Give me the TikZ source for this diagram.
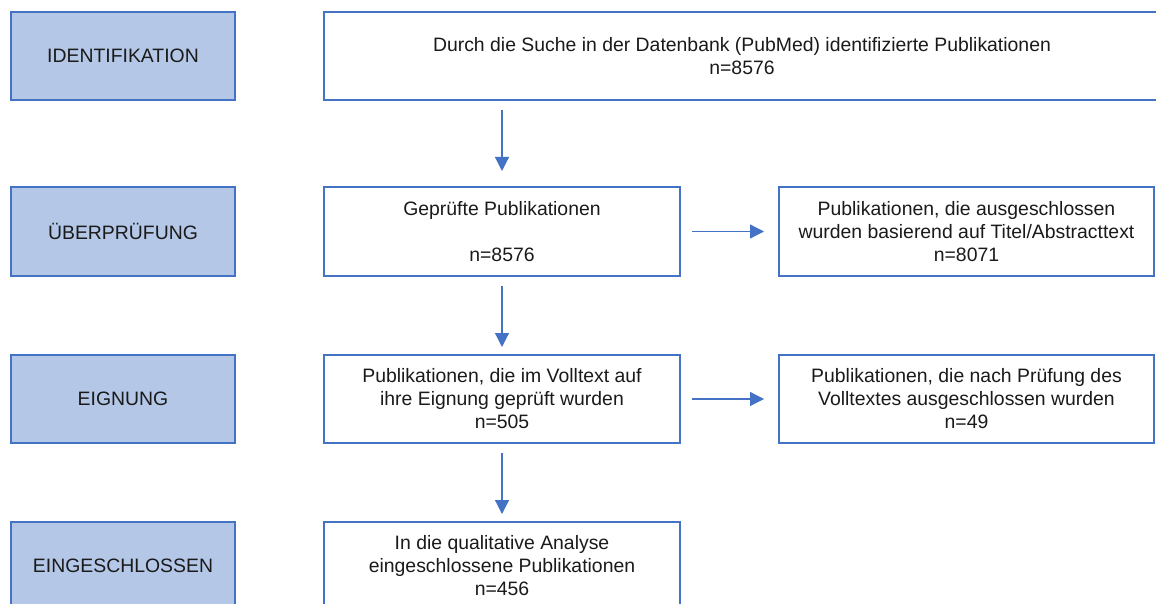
\documentclass[tikz,border=0pt]{standalone}
\usepackage{fontspec}
\setmainfont{Liberation Sans}
\usetikzlibrary{arrows.meta}
\definecolor{bordc}{HTML}{4472C4}
\definecolor{fillc}{HTML}{B4C7E7}
\definecolor{txtc}{HTML}{1A1A1A}
\begin{document}
\begin{tikzpicture}[x=1pt,y=-1pt,
  base/.style={draw=bordc, line width=1.6pt, inner sep=0pt, outer sep=0pt,
    align=center, text=txtc, font=\fontsize{19.4}{23}\selectfont},
  stage/.style={base, fill=fillc, minimum width=224pt},
  infobox/.style={base, fill=white},
  arr/.style={draw=bordc, line width=1.2pt, -{Triangle[width=14pt,length=14pt]}}]
\useasboundingbox (0,0) rectangle (1156,604);
\fill[white] (0,0) rectangle (1156,604);

% left column
\node[stage, minimum height=88pt] (s1) at (123,56) {IDENTIFIKATION};
\node[stage, minimum height=89pt] (s2) at (123,231.5) {ÜBERPRÜFUNG};
\node[stage, minimum height=88pt] (s3) at (123,399) {EIGNUNG};
\node[stage, minimum height=88pt] (s4) at (123,566) {EINGESCHLOSSEN};

% middle column
\node[infobox, minimum width=836pt, minimum height=88pt] (top) at (742,56)
  {Durch die Suche in der Datenbank (PubMed) identifizierte Publikationen\\n=8576};
\node[infobox, minimum width=356pt, minimum height=89pt] (m2) at (502,231.5)
  {Geprüfte Publikationen\\\strut\\n=8576};
\node[infobox, minimum width=356pt, minimum height=88pt] (m3) at (502,399)
  {Publikationen, die im Volltext auf\\ihre Eignung geprüft wurden\\n=505};
\node[infobox, minimum width=356pt, minimum height=88pt] (m4) at (502,566)
  {In die qualitative Analyse\\eingeschlossene Publikationen\\n=456};

% right column
\node[infobox, minimum width=375pt, minimum height=89pt] (r2) at (966.5,231.5)
  {Publikationen, die ausgeschlossen\\wurden basierend auf Titel/Abstracttext\\n=8071};
\node[infobox, minimum width=375pt, minimum height=88pt] (r3) at (966.5,399)
  {Publikationen, die nach Prüfung des\\Volltextes ausgeschlossen wurden\\n=49};

% vertical arrows
\draw[arr] ([yshift=-10pt]m2.north |- top.south) -- ([yshift=16pt]m2.north);
\draw[arr] ([yshift=-10pt]m2.south) -- ([yshift=8pt]m3.north);
\draw[arr] ([yshift=-10pt]m3.south) -- ([yshift=8pt]m4.north);

% horizontal arrows
\draw[arr] ([xshift=12pt]m2.east) -- ([xshift=-15pt]r2.west);
\draw[arr] ([xshift=12pt]m3.east) -- ([xshift=-15pt]r3.west);
\end{tikzpicture}
\end{document}
